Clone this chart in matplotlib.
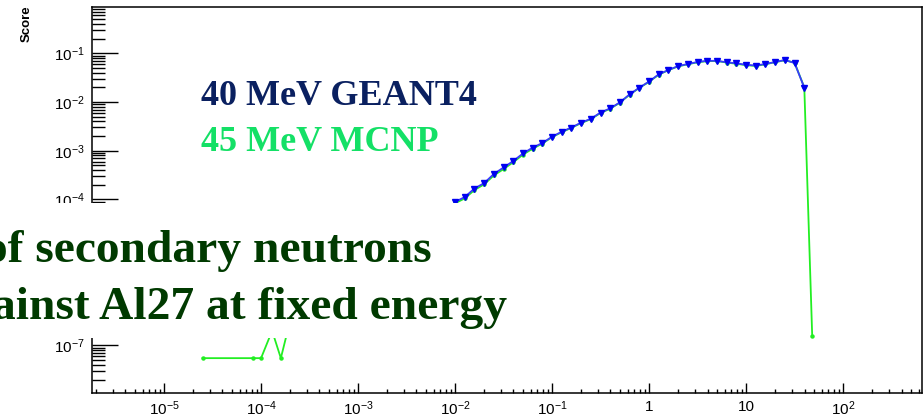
import numpy as np
import matplotlib
matplotlib.use("Agg")
import matplotlib.pyplot as plt
from matplotlib.patches import Rectangle
from matplotlib.ticker import FixedLocator, LogLocator, FuncFormatter, NullFormatter

plt.rcParams["font.family"] = ["Liberation Sans", "DejaVu Sans"]
plt.rcParams["mathtext.fontset"] = "custom"
plt.rcParams["mathtext.rm"] = "Liberation Sans"
plt.rcParams["mathtext.it"] = "Liberation Sans"
plt.rcParams["mathtext.default"] = "regular"

# ---- neutron energy spectra (score per bin) ----
energy = [0.01, 0.0126, 0.0158, 0.02, 0.0251, 0.0316, 0.0398, 0.0501, 0.0631, 0.0794,
          0.1, 0.126, 0.158, 0.2, 0.251, 0.316, 0.398, 0.501, 0.631, 0.794,
          1.0, 1.26, 1.58, 2.0, 2.51, 3.16, 3.98, 5.01, 6.31, 7.94,
          10.0, 12.6, 15.8, 20.0, 25.1, 31.6, 39.8]

score_geant4 = [8.85e-5, 1.12e-4, 1.67e-4, 2.17e-4, 3.33e-4, 4.52e-4, 6.15e-4, 8.77e-4, 1.16e-3, 1.44e-3,
                1.94e-3, 2.46e-3, 2.99e-3, 3.79e-3, 4.52e-3, 6.08e-3, 7.43e-3, 9.86e-3, 1.44e-2, 1.97e-2,
                2.64e-2, 3.71e-2, 4.54e-2, 5.48e-2, 6.03e-2, 6.63e-2, 7.01e-2, 7.01e-2, 6.53e-2, 6.23e-2,
                5.80e-2, 5.61e-2, 6.03e-2, 6.63e-2, 7.28e-2, 6.32e-2, 1.97e-2]

# MCNP: low-energy tail, then the same bins, then the cut-off
energy_mcnp_low = [2.5e-5, 8.2e-5, 1.0e-4, 1.3e-4, 1.6e-4, 2.5e-4, 5e-4, 1.2e-3, 3.5e-3]
score_mcnp_low = [5.5e-8, 5.5e-8, 5.5e-8, 2.0e-7, 5.5e-8, 2.0e-6, 5.0e-6, 1.5e-5, 4.0e-5]
score_mcnp = [8.3e-5, 1.05e-4, 1.55e-4, 2.05e-4, 3.1e-4, 4.2e-4, 5.8e-4, 8.3e-4, 1.1e-3, 1.4e-3,
              1.9e-3, 2.4e-3, 2.95e-3, 3.7e-3, 4.45e-3, 5.95e-3, 7.3e-3, 9.7e-3, 1.42e-2, 1.95e-2,
              2.6e-2, 3.65e-2, 4.5e-2, 5.4e-2, 5.95e-2, 6.55e-2, 6.9e-2, 6.95e-2, 6.45e-2, 6.1e-2,
              5.7e-2, 5.5e-2, 5.95e-2, 6.6e-2, 7.2e-2, 6.4e-2, 2.0e-2]
energy_mcnp_end = [48.0]
score_mcnp_end = [1.6e-7]

energy_mcnp = energy_mcnp_low + energy + energy_mcnp_end
score_mcnp_all = score_mcnp_low + score_mcnp + score_mcnp_end

# labelled decades
x_decades = [1e-5, 1e-4, 1e-3, 1e-2, 1e-1, 1, 10, 100]
y_decades = [1e-7, 1e-6, 1e-5, 1e-4, 1e-3, 1e-2, 1e-1]

# ---- plot ----
fig = plt.figure(figsize=(9.24, 4.2), dpi=100)
ax = fig.add_axes([0.0996, 0.0636, 0.898, 0.919])

ax.plot(energy_mcnp, score_mcnp_all, "-", color="#22ee22", lw=1.3,
        marker="o", ms=2.2, mec="#22ee22", zorder=2)
ax.plot(energy, score_geant4, "-", color="#3a3aff", lw=1.3,
        marker="v", ms=4.6, mfc="#0000f0", mec="#0000f0", zorder=3)

ax.set_xscale("log")
ax.set_yscale("log")
ax.set_xlim(1.81e-6, 647)
ax.set_ylim(1.044e-8, 0.88)


def root_fmt(v, pos):
    n = int(round(np.log10(v)))
    if n == 0:
        return "1"
    if n == 1:
        return "10"
    return r"$10^{%d}$" % n


ax.xaxis.set_major_locator(FixedLocator(x_decades))
ax.yaxis.set_major_locator(FixedLocator(y_decades))
for axis in (ax.xaxis, ax.yaxis):
    axis.set_minor_locator(LogLocator(base=10, subs=np.arange(2, 10), numticks=30))
    axis.set_major_formatter(FuncFormatter(root_fmt))
    axis.set_minor_formatter(NullFormatter())

ax.tick_params(axis="x", which="major", direction="in", length=7.2, width=1.0,
               labelsize=11, pad=4.5, top=False)
ax.tick_params(axis="x", which="minor", direction="in", length=3.2, width=1.0, top=False)
ax.tick_params(axis="y", which="major", direction="in", length=18.7, width=1.0,
               labelsize=11, pad=5, right=False)
ax.tick_params(axis="y", which="minor", direction="in", length=9.4, width=1.0, right=False)
for sp in ax.spines.values():
    sp.set_linewidth(1.1)

fig.text(27 / 924, 1 - 5 / 420, "Score", rotation=90, ha="center", va="top",
         fontsize=9.5, fontweight="bold")

# legend-style labels
fig.text(201 / 924, 1 - 105 / 420, "40 MeV GEANT4", ha="left", va="baseline",
         fontsize=26, fontweight="bold", family="Liberation Serif", color="#0a2060")
fig.text(201 / 924, 1 - 150.7 / 420, "45 MeV MCNP", ha="left", va="baseline",
         fontsize=26, fontweight="bold", family="Liberation Serif", color="#14e066")

# caption block over the lower-left of the frame
fig.add_artist(Rectangle((0, 1 - 338 / 420), 520 / 924, (338 - 203) / 420,
                         transform=fig.transFigure, facecolor="white",
                         edgecolor="none", zorder=5))
fig.text(432 / 924, 1 - 261.7 / 420, "of secondary neutrons", ha="right", va="baseline",
         fontsize=34.2, fontweight="bold", family="Liberation Serif", color="#003a00", zorder=6)
fig.text(507 / 924, 1 - 319 / 420, "ainst Al27 at fixed energy", ha="right", va="baseline",
         fontsize=34.2, fontweight="bold", family="Liberation Serif", color="#003a00", zorder=6)

fig.savefig("out.png", dpi=100)
plt.close(fig)
